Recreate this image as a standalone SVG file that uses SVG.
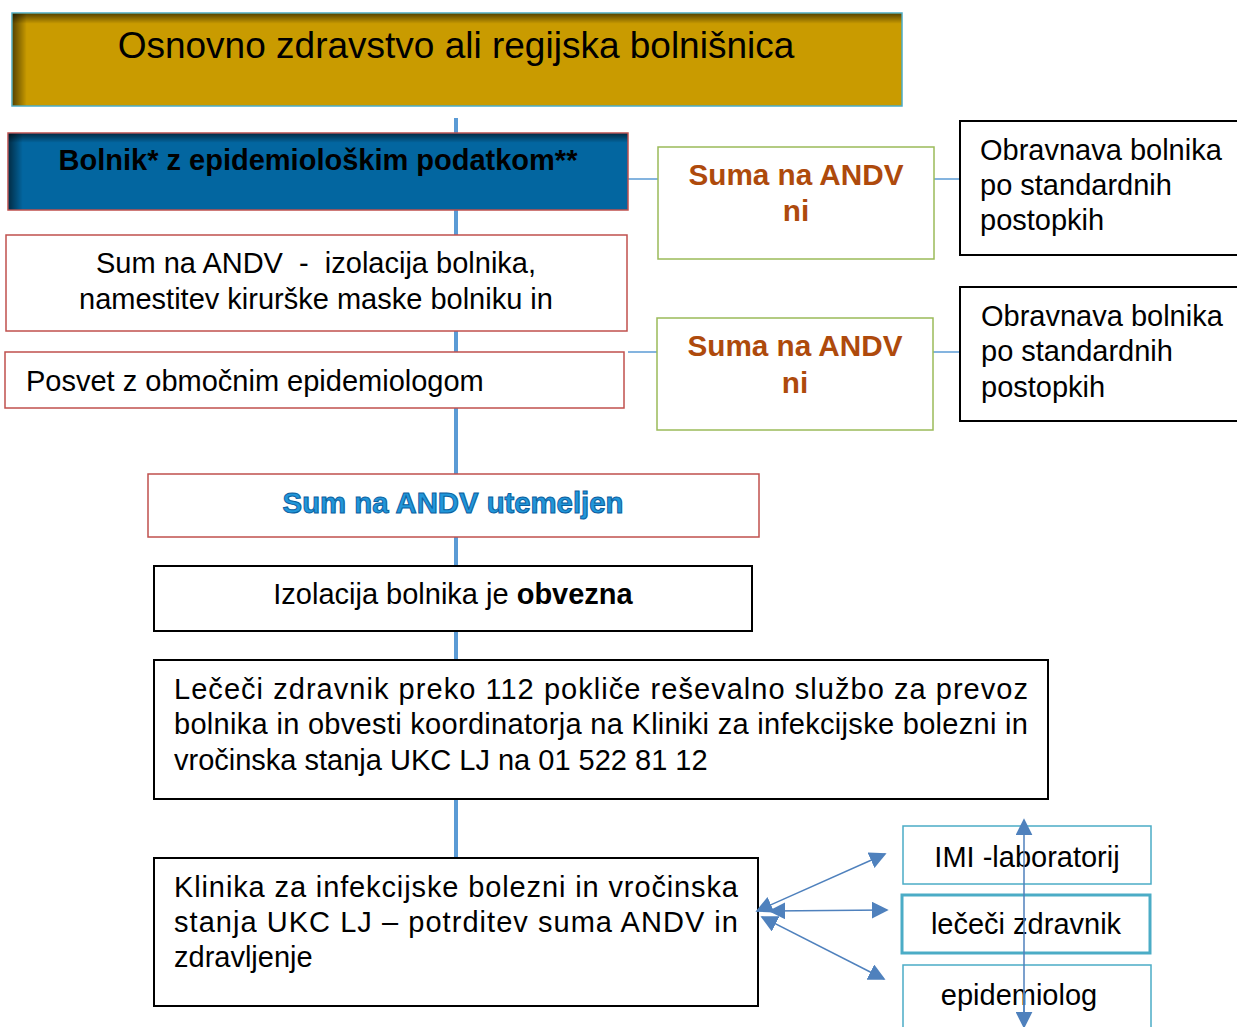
<svg xmlns="http://www.w3.org/2000/svg" width="1237" height="1027" viewBox="0 0 1237 1027">
<style>
text{font-family:"Liberation Sans",Arial,sans-serif;fill:#000}
.t26{font-size:29px}
.red{fill:#fff;stroke:#C0504D;stroke-width:1.5}
.grn{fill:#fff;stroke:#9BBB59;stroke-width:1.5}
.blk{fill:#fff;stroke:#000;stroke-width:2}
.cy{fill:#fff;stroke:#4BACC6;stroke-width:1.5}
.suma{font-size:29.7px;font-weight:bold;fill:#AE4A0C}
.conn{stroke:#5B9BD5;fill:none}
.arr{stroke:#4F81BD;stroke-width:1.5;fill:none}
</style>
<defs>
<linearGradient id="gl" x1="0" y1="0" x2="1" y2="0"><stop offset="0" stop-color="#000" stop-opacity="0.55"/><stop offset="1" stop-color="#000" stop-opacity="0"/></linearGradient>
<linearGradient id="gt" x1="0" y1="0" x2="0" y2="1"><stop offset="0" stop-color="#000" stop-opacity="0.55"/><stop offset="1" stop-color="#000" stop-opacity="0"/></linearGradient>
<marker id="ah2" viewBox="0 0 10 10" refX="9" refY="5" markerWidth="17" markerHeight="17" markerUnits="userSpaceOnUse" orient="auto-start-reverse"><path d="M0,0L10,5L0,10z" fill="#4F81BD"/></marker>
</defs>
<g id="connectors">
<line class="conn" x1="456" y1="118" x2="456" y2="858" stroke-width="4"/>
<line class="conn" x1="628" y1="179" x2="658" y2="179" stroke-width="1.5"/>
<line class="conn" x1="934" y1="179" x2="960" y2="179" stroke-width="1.5"/>
<line class="conn" x1="628" y1="352" x2="657" y2="352" stroke-width="1.5"/>
<line class="conn" x1="933" y1="352" x2="960" y2="352" stroke-width="1.5"/>
</g>
<g id="n-top">
<rect x="12" y="13" width="890" height="93" fill="#C99B00" stroke="#4BACC6" stroke-width="1.5"/>
<rect x="12.8" y="13.8" width="14" height="91.5" fill="url(#gl)"/>
<rect x="12.8" y="13.8" width="888.5" height="10" fill="url(#gt)"/>
<text x="456" y="58" font-size="37" text-anchor="middle">Osnovno zdravstvo ali regijska bolnišnica</text>
</g>
<g id="n-bolnik">
<rect x="8" y="133" width="620" height="77" fill="#0366A0" stroke="#C0504D" stroke-width="1.5"/>
<rect x="8.8" y="133.8" width="14" height="75.5" fill="url(#gl)"/>
<rect x="8.8" y="133.8" width="618.5" height="9" fill="url(#gt)"/>
<text x="318" y="170" font-size="29" font-weight="bold" text-anchor="middle">Bolnik* z epidemiološkim podatkom**</text>
</g>
<g id="n-sum">
<rect class="red" x="6" y="235" width="621" height="96"/>
<text class="t26" x="316" y="273" text-anchor="middle" xml:space="preserve">Sum na ANDV  -  izolacija bolnika,</text>
<text class="t26" x="316" y="309" text-anchor="middle">namestitev kirurške maske bolniku in</text>
</g>
<g id="n-posvet">
<rect class="red" x="5" y="352" width="619" height="56"/>
<text class="t26" x="26" y="391">Posvet z območnim epidemiologom</text>
</g>
<g id="n-suma1">
<rect class="grn" x="658" y="147" width="276" height="112"/>
<text class="suma" x="796" y="185" text-anchor="middle">Suma na ANDV</text>
<text class="suma" x="796" y="221" text-anchor="middle">ni</text>
</g>
<g id="n-obr1">
<rect class="blk" x="960" y="121" width="280" height="134"/>
<text class="t26" x="980" y="160">Obravnava bolnika</text>
<text class="t26" x="980" y="195">po standardnih</text>
<text class="t26" x="980" y="230">postopkih</text>
</g>
<g id="n-suma2">
<rect class="grn" x="657" y="318" width="276" height="112"/>
<text class="suma" x="795" y="356" text-anchor="middle">Suma na ANDV</text>
<text class="suma" x="795" y="393" text-anchor="middle">ni</text>
</g>
<g id="n-obr2">
<rect class="blk" x="960" y="287" width="280" height="134"/>
<text class="t26" x="981" y="326">Obravnava bolnika</text>
<text class="t26" x="981" y="361">po standardnih</text>
<text class="t26" x="981" y="397">postopkih</text>
</g>
<g id="n-utemeljen">
<rect class="red" x="148" y="474" width="611" height="63"/>
<text x="453" y="513" font-size="29.3" font-weight="bold" text-anchor="middle" style="fill:#2196D9;stroke:#0B5E9E;stroke-width:1">Sum na ANDV utemeljen</text>
</g>
<g id="n-izolacija">
<rect class="blk" x="154" y="566" width="598" height="65"/>
<text class="t26" x="453" y="604" text-anchor="middle">Izolacija bolnika je <tspan font-weight="bold">obvezna</tspan></text>
</g>
<g id="n-lececi">
<rect class="blk" x="154" y="660" width="894" height="139"/>
<text class="t26" x="174" y="699" textLength="854" lengthAdjust="spacing">Lečeči zdravnik preko 112 pokliče reševalno službo za prevoz</text>
<text class="t26" x="174" y="734" textLength="854" lengthAdjust="spacing">bolnika in obvesti koordinatorja na Kliniki za infekcijske bolezni in</text>
<text class="t26" x="174" y="770">vročinska stanja UKC LJ na 01 522 81 12</text>
</g>
<g id="n-klinika">
<rect class="blk" x="154" y="858" width="604" height="148"/>
<text class="t26" x="174" y="897" textLength="564" lengthAdjust="spacing">Klinika za infekcijske bolezni in vročinska</text>
<text class="t26" x="174" y="932" textLength="564" lengthAdjust="spacing">stanja UKC LJ – potrditev suma ANDV in</text>
<text class="t26" x="174" y="967">zdravljenje</text>
</g>
<g id="n-imi">
<rect class="cy" x="903" y="826" width="248" height="58"/>
<text class="t26" x="1027" y="867" text-anchor="middle">IMI -laboratorij</text>
</g>
<g id="n-zdravnik">
<rect x="902" y="895" width="248" height="58" fill="#fff" stroke="#4BACC6" stroke-width="3"/>
<text class="t26" x="1026" y="934" text-anchor="middle">lečeči zdravnik</text>
</g>
<g id="n-epi">
<rect class="cy" x="903" y="965" width="248" height="70"/>
<text class="t26" x="1019" y="1005" text-anchor="middle">epidemiolog</text>
</g>
<g id="arrows">
<line class="arr" x1="1024" y1="820" x2="1024" y2="1027" marker-start="url(#ah2)"/>
<line class="arr" x1="1024" y1="990" x2="1024" y2="1027" marker-end="url(#ah2)"/>
<line class="arr" x1="757" y1="911" x2="885" y2="854" marker-start="url(#ah2)" marker-end="url(#ah2)"/>
<line class="arr" x1="770" y1="911" x2="887" y2="910" marker-start="url(#ah2)" marker-end="url(#ah2)"/>
<line class="arr" x1="762" y1="917" x2="884" y2="979" marker-start="url(#ah2)" marker-end="url(#ah2)"/>
</g>
</svg>
